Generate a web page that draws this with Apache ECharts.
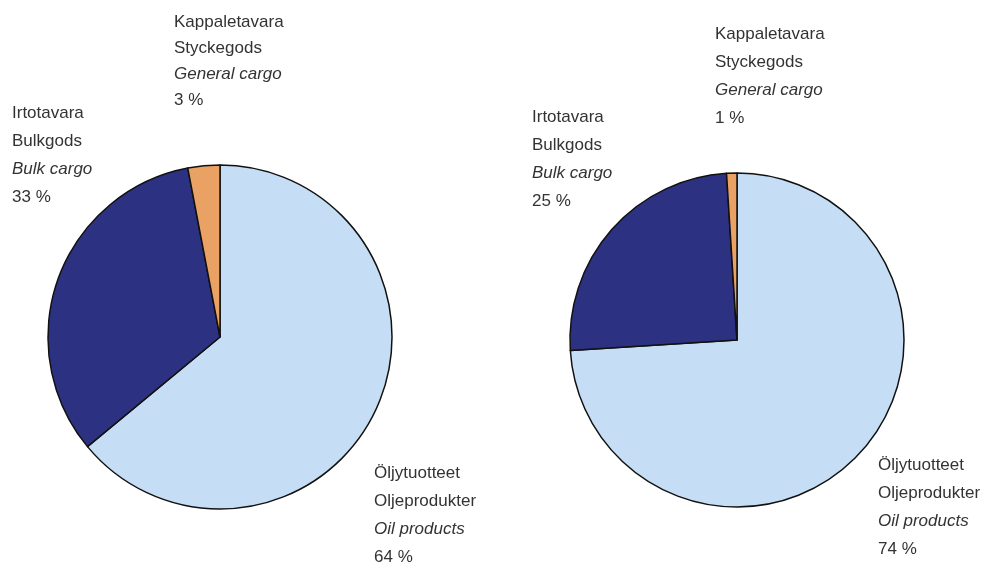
<!DOCTYPE html>
<html>
<head>
<meta charset="utf-8">
<script src="https://cdn.jsdelivr.net/npm/echarts@6/dist/echarts.min.js"></script>
<style>
  html, body { margin: 0; padding: 0; background: #ffffff; }
  #chart { width: 988px; height: 567px; }
</style>
</head>
<body>
<div id="chart"></div>
<script>
// cargo categories, in pie order (clockwise from 12 o'clock)
const namesFi = ['Öljytuotteet', 'Irtotavara', 'Kappaletavara']
const namesSv = ['Oljeprodukter', 'Bulkgods', 'Styckegods']
const namesEn = ['Oil products', 'Bulk cargo', 'General cargo']

// shares, %
const leftValues = [64, 33, 3]
const rightValues = [74, 25, 1]

const sliceColors = ['#c6def5', '#2d3181', '#e9a264']
const textColor = '#333333'
const font = '"Liberation Sans", Arial, sans-serif'

// label anchor (top-left of each text block) and line spacing, px
const leftLabelPos = [[374, 459], [12, 99], [174, 9]]
const leftLineHeights = [28, 28, 26]
const rightLabelPos = [[878, 451], [532, 103], [715, 20]]
const rightLineHeights = [28, 28, 28]

const textStyle = (lh, italic) => ({
    fontFamily: font,
    fontSize: 17,
    fontStyle: italic ? 'italic' : 'normal',
    color: textColor,
    lineHeight: lh,
})

const buildData = (values, lineHeights) =>
    values.map((v, i) => ({
        name: namesEn[i],
        value: v,
        itemStyle: { color: sliceColors[i] },
        label: {
            rich: {
                n: textStyle(lineHeights[i], false),
                i: textStyle(lineHeights[i], true),
            },
        },
    }))

const buildSeries = (values, center, radius, labelPos, lineHeights) => ({
    type: 'pie',
    center,
    radius,
    startAngle: 90,
    clockwise: true,
    silent: true,
    animation: false,
    itemStyle: { borderColor: '#111111', borderWidth: 1.5 },
    label: {
        show: true,
        position: 'inside',
        overflow: 'none',
        formatter: (p) =>
            `{n|${namesFi[p.dataIndex]}}\n{n|${namesSv[p.dataIndex]}}\n{i|${namesEn[p.dataIndex]}}\n{n|${p.value} %}`,
    },
    labelLine: { show: false },
    labelLayout: (params) => ({
        x: labelPos[params.dataIndex][0],
        y: labelPos[params.dataIndex][1],
        align: 'left',
        verticalAlign: 'top',
    }),
    data: buildData(values, lineHeights),
})

const chart = echarts.init(document.getElementById('chart'))
chart.setOption({
    backgroundColor: '#ffffff',
    animation: false,
    series: [
        buildSeries(leftValues, [220, 337], 172, leftLabelPos, leftLineHeights),
        buildSeries(rightValues, [737, 340], 167, rightLabelPos, rightLineHeights),
    ],
})
</script>
</body>
</html>
